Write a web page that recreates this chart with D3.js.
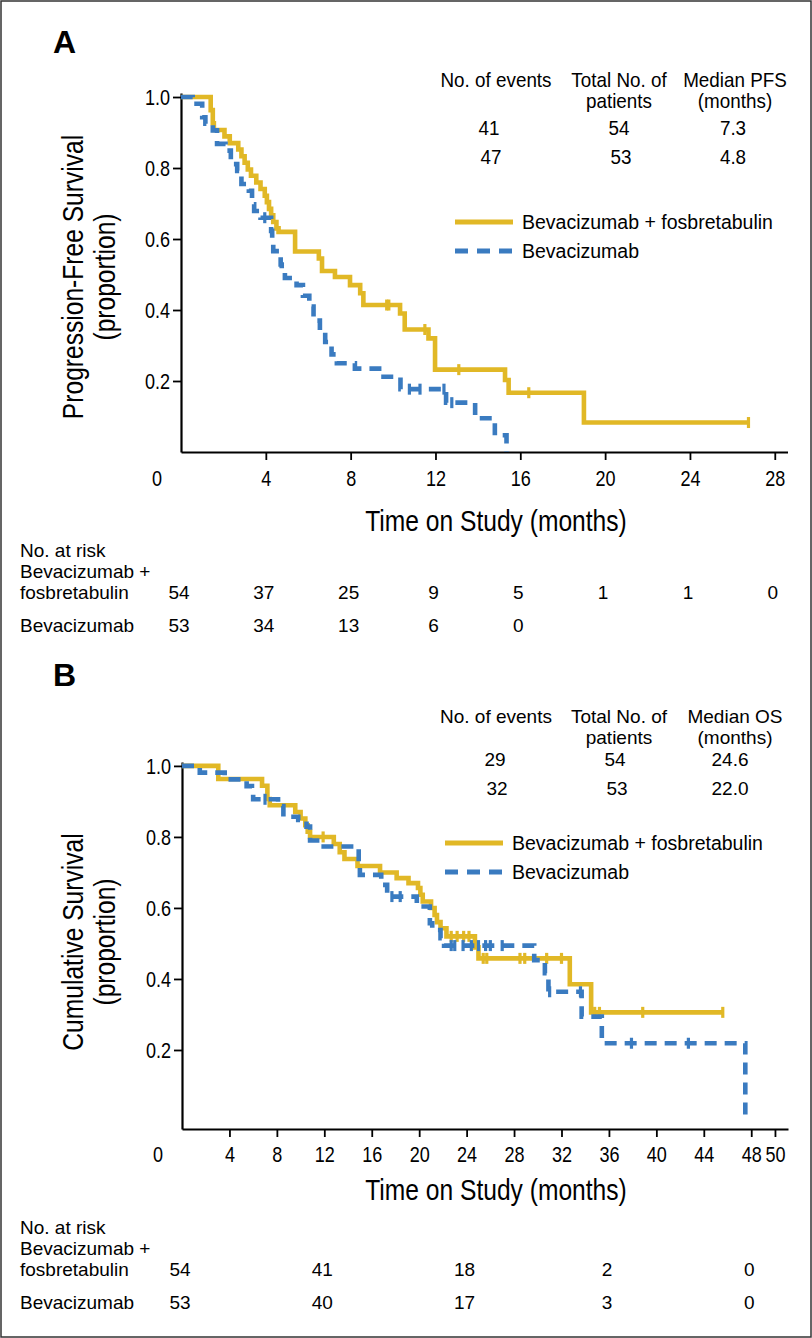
<!DOCTYPE html>
<html>
<head>
<meta charset="utf-8">
<script src="https://cdn.jsdelivr.net/npm/d3@7/dist/d3.min.js"></script>
<style>
  html, body { margin: 0; padding: 0; background: #fff; }
  svg { display: block; }
  text { font-family: "Liberation Sans", Arial, Helvetica, sans-serif; fill: #000; }
</style>
</head>
<body>
<script>
// ---------------- DATA ----------------
const groupNames = ["Bevacizumab + fosbretabulin", "Bevacizumab"];

// Panel A: progression-free survival, [time (months), survival proportion]
const pfsComboSteps = [[0,1],[1.4,0.963],[1.5,0.926],[1.55,0.907],[2.05,0.889],[2.3,0.87],[2.7,0.852],[2.85,0.833],[3.0,0.815],[3.15,0.796],[3.3,0.778],[3.55,0.759],[3.75,0.741],[3.95,0.722],[4.05,0.704],[4.15,0.685],[4.25,0.667],[4.35,0.648],[4.5,0.63],[4.6,0.62],[5.38,0.565],[6.5,0.545],[6.65,0.51],[7.26,0.493],[7.97,0.47],[8.45,0.447],[8.6,0.414],[10.33,0.39],[10.55,0.345],[11.67,0.32],[11.98,0.232],[15.28,0.203],[15.45,0.167],[19.0,0.083]];
const pfsComboEnd = 26.76;
const pfsComboCensor = [9.7, 9.8, 11.5, 13.1, 16.4, 26.76];

const pfsBevSteps = [[0,1],[0.55,0.981],[1.0,0.943],[1.15,0.925],[1.5,0.906],[1.7,0.868],[2.1,0.849],[2.35,0.811],[2.65,0.792],[2.85,0.755],[3.2,0.736],[3.35,0.698],[3.45,0.679],[3.75,0.66],[4.25,0.623],[4.3,0.585],[4.35,0.566],[4.7,0.528],[4.75,0.509],[4.9,0.49],[5.45,0.47],[5.75,0.44],[6.05,0.41],[6.25,0.37],[6.55,0.34],[6.8,0.31],[7.1,0.275],[7.35,0.25],[8.2,0.235],[9.55,0.212],[10.35,0.177],[12.5,0.139],[13.87,0.095],[14.8,0.047],[15.35,0]];
const pfsBevEnd = 15.35;
const pfsBevCensor = [3.95, 10.77, 11.27, 12.4, 12.77];

// Panel B: overall survival
const osComboSteps = [[0,1],[3.06,0.963],[6.75,0.944],[7.2,0.907],[7.4,0.889],[9.55,0.87],[10.0,0.852],[10.4,0.833],[10.6,0.815],[10.8,0.8],[12.8,0.78],[13.3,0.757],[13.7,0.738],[14.8,0.718],[16.7,0.7],[18.1,0.684],[19.1,0.67],[19.9,0.656],[20.1,0.637],[20.3,0.618],[21.0,0.6],[21.3,0.58],[21.5,0.56],[21.8,0.543],[22.3,0.52],[24.7,0.489],[25.0,0.458],[32.7,0.385],[34.5,0.306]];
const osComboEnd = 45.6;
const osComboCensor = [11.9, 22.7, 23.2, 23.75, 24.2, 25.4, 25.7, 28.5, 28.9, 30.75, 32.0, 34.8, 35.2, 38.85, 45.6];

const osBevSteps = [[0,1],[1.5,0.981],[3.6,0.962],[5.45,0.943],[5.9,0.925],[6.0,0.906],[8.1,0.887],[8.55,0.857],[9.8,0.848],[10.5,0.829],[10.8,0.79],[11.6,0.773],[14.9,0.73],[15.0,0.693],[16.8,0.665],[17.3,0.632],[19.8,0.604],[20.9,0.557],[21.1,0.538],[21.8,0.515],[22.1,0.494],[29.7,0.453],[30.6,0.416],[30.9,0.364],[33.7,0.294],[35.4,0.219],[47.5,0]];
const osBevEnd = 47.5;
const osBevCensor = [7.0, 17.7, 18.4, 22.7, 23.0, 23.7, 24.4, 25.0, 25.6, 26.0, 27.0, 31.0, 33.6, 37.9, 42.7];

// axis ticks
const pfsXTicks = [4, 8, 12, 16, 20, 24, 28];
const osXTicks = [4, 8, 12, 16, 20, 24, 28, 32, 36, 40, 44, 48, 50];
const yTicks = [0.2, 0.4, 0.6, 0.8, 1.0];

// summary tables
const summaryHeadersA = [["No. of events"], ["Total No. of", "patients"], ["Median PFS", "(months)"]];
const summaryRowsA = [["41", "54", "7.3"], ["47", "53", "4.8"]];
const summaryHeadersB = [["No. of events"], ["Total No. of", "patients"], ["Median OS", "(months)"]];
const summaryRowsB = [["29", "54", "24.6"], ["32", "53", "22.0"]];

// number at risk
const riskTimesA = [0, 4, 8, 12, 16, 20, 24, 28];
const riskComboA = [54, 37, 25, 9, 5, 1, 1, 0];
const riskBevA = [53, 34, 13, 6, 0];
const riskTimesB = [0, 12, 24, 36, 48];
const riskComboB = [54, 41, 18, 2, 0];
const riskBevB = [53, 40, 17, 3, 0];

// ---------------- STYLE ----------------
const YELLOW = "#E1B826";
const BLUE = "#3A7BC0";
const SQ = 0.82; // horizontal squeeze for condensed-looking text

const W = 812, H = 1338;
const svg = d3.select("body").append("svg").attr("width", W).attr("height", H);
svg.append("rect").attr("x", 0).attr("y", 0).attr("width", W).attr("height", H).attr("fill", "#fff");
svg.append("rect").attr("x", 1).attr("y", 1).attr("width", W - 2).attr("height", H - 2)
  .attr("fill", "none").attr("stroke", "#333").attr("stroke-width", 1.5);

// condensed text helper: text is squeezed horizontally around its anchor point
function ctext(parent, x, y, str, size, anchor, rotate, sq) {
  const k = sq || SQ;
  const t = parent.append("text")
    .attr("transform", `translate(${x},${y})` + (rotate ? ` rotate(${rotate})` : "") + ` scale(${k},1)`)
    .attr("font-size", size).attr("text-anchor", anchor || "start").text(str);
  return t;
}

function survAt(steps, t) {
  let s = steps[0][1];
  for (const p of steps) { if (p[0] <= t) s = p[1]; else break; }
  return s;
}

function drawPanel(cfg) {
  const g = svg.append("g");
  const x = d3.scaleLinear().domain(cfg.xDomain).range(cfg.xRange);
  const y = d3.scaleLinear().domain(cfg.yDomain).range(cfg.yRange);

  // panel letter
  g.append("text").attr("x", 53).attr("y", cfg.letterY)
    .attr("font-size", 32).attr("font-weight", "bold").text(cfg.letter);

  // x axis
  const xAxis = d3.axisBottom(x).tickValues(cfg.xTicks).tickSizeOuter(0).tickSizeInner(8)
    .tickFormat(d3.format("d"));
  const xg = g.append("g").attr("transform", `translate(0,${cfg.xAxisY})`).call(xAxis);
  xg.select(".domain").attr("stroke", "#000").attr("stroke-width", 2.2);
  xg.selectAll(".tick line").attr("stroke", "#000").attr("stroke-width", 1.8);
  xg.selectAll(".tick text").attr("font-size", cfg.tickFontSize).attr("font-family", null)
    .attr("fill", "#000").attr("dy", null).attr("y", null)
    .attr("transform", `translate(0,${cfg.xTickLabelBase}) scale(${SQ},1)`);
  // zero label (offset to the left, no tick)
  ctext(g, x(0) - 24, cfg.xAxisY + cfg.xTickLabelBase, "0", cfg.tickFontSize, "middle");

  // y axis
  const yAxis = d3.axisLeft(y).tickValues(yTicks).tickSizeOuter(0).tickSizeInner(8)
    .tickFormat(d3.format(".1f"));
  const yg = g.append("g").attr("transform", `translate(${x(0)},0)`).call(yAxis);
  yg.select(".domain").attr("stroke", "#000").attr("stroke-width", 2.2);
  yg.selectAll(".tick line").attr("stroke", "#000").attr("stroke-width", 1.8);
  yg.selectAll(".tick text").attr("font-size", cfg.tickFontSize).attr("font-family", null)
    .attr("fill", "#000").attr("x", null).attr("dy", null)
    .attr("transform", `translate(-11,${cfg.tickFontSize * 0.36}) scale(${SQ},1)`);

  // axis titles
  ctext(g, cfg.xTitleX, cfg.xTitleY, "Time on Study (months)", 30, "middle");
  cfg.yTitle.forEach((line, i) => {
    ctext(g, 83 + i * 32, cfg.yTitleCY, line, 30, "middle", -90);
  });

  // curves
  const line = d3.line().x(d => x(d[0])).y(d => y(d[1])).curve(d3.curveStepAfter);
  const series = [
    { steps: cfg.combo, end: cfg.comboEnd, cens: cfg.comboCensor, color: YELLOW, dash: null },
    { steps: cfg.bev, end: cfg.bevEnd, cens: cfg.bevCensor, color: BLUE, dash: "12,8" }
  ];
  series.forEach(s => {
    const pts = s.steps.slice();
    const last = pts[pts.length - 1];
    if (last[0] < s.end) pts.push([s.end, last[1]]);
    g.append("path").datum(pts).attr("d", line).attr("fill", "none")
      .attr("stroke", s.color).attr("stroke-width", 4.6)
      .attr("stroke-dasharray", s.dash);
    g.selectAll(null).data(s.cens).enter().append("line")
      .attr("x1", d => x(d)).attr("x2", d => x(d))
      .attr("y1", d => y(survAt(s.steps, d)) - 5.5).attr("y2", d => y(survAt(s.steps, d)) + 5.5)
      .attr("stroke", s.color).attr("stroke-width", 3.2);
  });

  // summary table
  const colX = [496, 619, 735];
  cfg.headers.forEach((lines, ci) => {
    lines.forEach((t, li) => {
      const yy = cfg.headerY + li * 21;
      if (cfg.tableCondensed) ctext(g, colX[ci], yy, t, cfg.tableFontSize, "middle", null, 0.92);
      else g.append("text").attr("font-size", cfg.tableFontSize).attr("text-anchor", "middle")
        .attr("x", colX[ci]).attr("y", yy).text(t);
    });
  });
  cfg.rows.forEach((row, ri) => {
    row.forEach((t, ci) => {
      const xx = cfg.rowX[ci] + (ri === 1 && ci < 2 ? 2 : 0);
      const yy = cfg.rowY[ri];
      if (cfg.tableCondensed) ctext(g, xx, yy, t, cfg.tableFontSize, "middle", null, 0.92);
      else g.append("text").attr("font-size", cfg.tableFontSize).attr("text-anchor", "middle")
        .attr("x", xx).attr("y", yy).text(t);
    });
  });

  // legend
  const lg = g.append("g");
  [YELLOW, BLUE].forEach((c, i) => {
    const ly = cfg.legendY + i * 29;
    lg.append("line").attr("x1", cfg.legendX).attr("x2", cfg.legendX + 58)
      .attr("y1", ly).attr("y2", ly).attr("stroke", c).attr("stroke-width", 5)
      .attr("stroke-dasharray", i === 1 ? "13,9" : null);
    lg.append("text").attr("font-size", 19.5)
      .attr("x", cfg.legendX + 67).attr("y", ly + 7).text(groupNames[i]);
  });

  // number at risk table
  const rt = g.append("g").attr("font-size", 19);
  rt.append("text").attr("x", 20).attr("y", cfg.riskY).text("No. at risk");
  rt.append("text").attr("x", 20).attr("y", cfg.riskY + 21).text("Bevacizumab +");
  rt.append("text").attr("x", 20).attr("y", cfg.riskY + 42).text("fosbretabulin");
  rt.append("text").attr("x", 20).attr("y", cfg.riskY + 75).text("Bevacizumab");
  cfg.riskCombo.forEach((v, i) => {
    rt.append("text").attr("text-anchor", "middle").attr("x", x(cfg.riskTimes[i]) - 2)
      .attr("y", cfg.riskY + 42).text(v);
  });
  cfg.riskBev.forEach((v, i) => {
    rt.append("text").attr("text-anchor", "middle").attr("x", x(cfg.riskTimes[i]) - 2)
      .attr("y", cfg.riskY + 75).text(v);
  });
}

drawPanel({
  letter: "A", letterY: 53,
  xDomain: [0, 28.6], xRange: [181, 787.5],
  yDomain: [0, 1.0113], yRange: [452, 93],
  xAxisY: 452, xTicks: pfsXTicks, xTickLabelBase: 34,
  tickFontSize: 22,
  xTitleX: 496, xTitleY: 531,
  yTitle: ["Progression-Free Survival", "(proportion)"], yTitleCY: 277,
  combo: pfsComboSteps, comboEnd: pfsComboEnd, comboCensor: pfsComboCensor,
  bev: pfsBevSteps, bevEnd: pfsBevEnd, bevCensor: pfsBevCensor,
  headers: summaryHeadersA, rows: summaryRowsA,
  tableCondensed: true, tableFontSize: 20.5, headerY: 87, rowY: [135, 164], rowX: [489, 619, 733],
  legendX: 455, legendY: 222,
  riskY: 557, riskTimes: riskTimesA, riskCombo: riskComboA, riskBev: riskBevA
});

drawPanel({
  letter: "B", letterY: 686,
  xDomain: [0, 51.1], xRange: [182, 788],
  yDomain: [-0.0225, 1.011], yRange: [1129, 762],
  xAxisY: 1129, xTicks: osXTicks, xTickLabelBase: 33,
  tickFontSize: 22,
  xTitleX: 496, xTitleY: 1200,
  yTitle: ["Cumulative Survival", "(proportion)"], yTitleCY: 942,
  combo: osComboSteps, comboEnd: osComboEnd, comboCensor: osComboCensor,
  bev: osBevSteps, bevEnd: osBevEnd, bevCensor: osBevCensor,
  headers: summaryHeadersB, rows: summaryRowsB,
  tableCondensed: false, tableFontSize: 19, headerY: 723, rowY: [766, 795], rowX: [495, 615, 730],
  legendX: 445, legendY: 843,
  riskY: 1234, riskTimes: riskTimesB, riskCombo: riskComboB, riskBev: riskBevB
});
</script>
</body>
</html>
